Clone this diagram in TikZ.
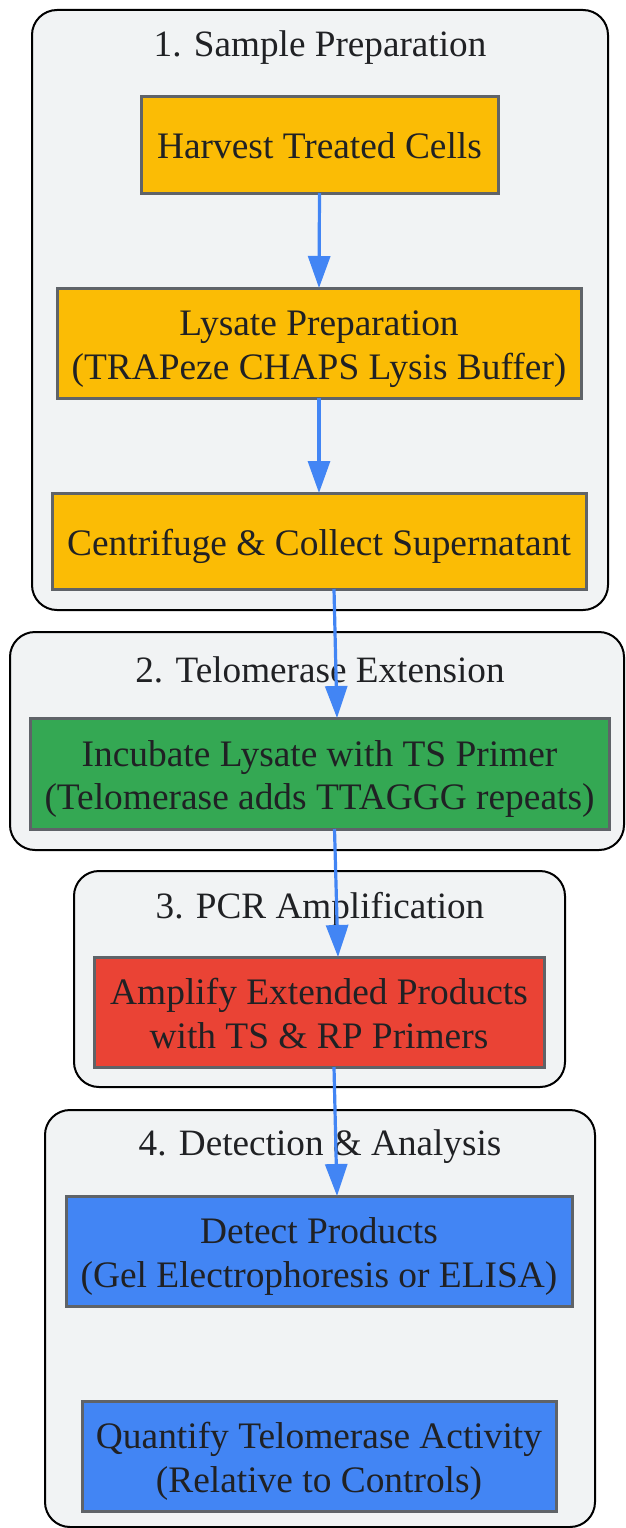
\documentclass[tikz,border=0pt]{standalone}
\usepackage{fontspec}
\setmainfont{Liberation Serif}
\usetikzlibrary{arrows.meta,calc}
\definecolor{txt}{HTML}{202124}
\definecolor{clfill}{HTML}{F1F3F4}
\definecolor{nodeedge}{HTML}{5F6368}
\definecolor{cyellow}{HTML}{FBBC05}
\definecolor{cgreen}{HTML}{34A853}
\definecolor{cred}{HTML}{EA4335}
\definecolor{cblue}{HTML}{4285F4}
\newcommand\steptext[2]{\raisebox{-#1}[\height][\depth]{\begin{tabular}{@{}c@{}}#2\end{tabular}}}
\tikzset{
  cluster/.style={draw=black, line width=2pt, fill=clfill, rounded corners=25pt},
  cltitle/.style={text=txt, font=\fontsize{37.2}{43.5}\selectfont, inner sep=0pt},
  stepbox/.style={draw=nodeedge, line width=3pt, text=txt, inner sep=0pt, outer sep=0pt, font=\fontsize{37.4}{43.5}\selectfont},
  flow/.style={draw=cblue, line width=3.2pt, -{Triangle[length=32pt,width=22pt]}},
}
\begin{document}
\begin{tikzpicture}[x=1pt,y=-1pt]
\useasboundingbox (0,0) rectangle (625,1528);
% clusters
\draw[cluster] (32,10) rectangle (608,610);
\draw[cluster] (10,632) rectangle (624,850);
\draw[cluster] (74,871) rectangle (565,1087);
\draw[cluster] (45,1110) rectangle (595,1527);
\node[cltitle] (t1) at (320,48) {1. Sample Preparation};
\node[cltitle] (t2) at (320,670) {2. Telomerase Extension};
\node[cltitle] (t3) at (320,909) {3. PCR Amplification};
\node[cltitle] (t4) at (320,1147) {4. Detection \& Analysis};
% nodes
\node[stepbox, fill=cyellow, minimum width=357pt, minimum height=97pt] (harvest) at (319.5,144.5) {\steptext{5pt}{Harvest Treated Cells}};
\node[stepbox, fill=cyellow, minimum width=524pt, minimum height=110pt] (lysate) at (319,343) {\steptext{6pt}{Lysate Preparation\\(TRAPeze CHAPS Lysis Buffer)}};
\node[stepbox, fill=cyellow, minimum width=534pt, minimum height=96pt] (centri) at (319,541) {\steptext{6pt}{Centrifuge \& Collect Supernatant}};
\node[stepbox, fill=cgreen, minimum width=579pt, minimum height=111pt] (incub) at (319.5,773.5) {\steptext{6pt}{Incubate Lysate with TS Primer\\(Telomerase adds TTAGGG repeats)}};
\node[stepbox, fill=cred, minimum width=450pt, minimum height=110pt] (amp) at (319,1012) {\steptext{6pt}{Amplify Extended Products\\with TS \& RP Primers}};
\node[stepbox, fill=cblue, minimum width=506pt, minimum height=110pt] (detect) at (319,1251) {\steptext{6pt}{Detect Products\\(Gel Electrophoresis or ELISA)}};
\node[stepbox, fill=cblue, minimum width=474pt, minimum height=110pt] (quant) at (319,1456) {\steptext{6pt}{Quantify Telomerase Activity\\(Relative to Controls)}};
% connectors
\draw[flow] (harvest.south) -- (lysate.north);
\draw[flow] (lysate.south) -- (centri.north);
\draw[flow] ($(centri.south)+(15,0)$) -- ($(incub.north)+(17.5,0)$);
\draw[flow] ($(incub.south)+(15,0)$) -- ($(amp.north)+(19,0)$);
\draw[flow] ($(amp.south)+(15,0)$) -- ($(detect.north)+(18,0)$);
\end{tikzpicture}
\end{document}
